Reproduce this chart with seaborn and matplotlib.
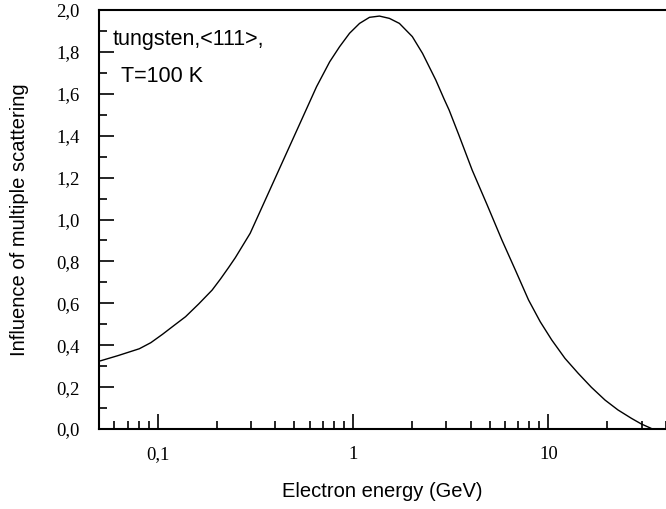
import numpy as np
import pandas as pd
import matplotlib
matplotlib.use("Agg")
import matplotlib.pyplot as plt
import matplotlib.ticker as mticker
import seaborn as sns

# Data
energy = [0.0507, 0.0624, 0.0804, 0.0921, 0.1057, 0.121, 0.1387, 0.162,
          0.1897, 0.2094, 0.2305, 0.2495, 0.2642, 0.2971, 0.3614, 0.4395,
          0.5346, 0.650, 0.759, 0.853, 0.959, 1.079, 1.213, 1.364, 1.534,
          1.726, 2.01, 2.267, 2.65, 2.923, 3.10, 3.48, 4.07, 4.86, 5.78,
          6.77, 7.91, 9.08, 10.4, 12.16, 14.2, 16.6, 19.5, 22.7, 26.6,
          29.9, 33.6]
influence = [0.325, 0.350, 0.383, 0.412, 0.452, 0.494, 0.536, 0.597,
             0.663, 0.716, 0.771, 0.818, 0.856, 0.934, 1.109, 1.284,
             1.459, 1.634, 1.753, 1.825, 1.889, 1.936, 1.965, 1.971, 1.960,
             1.936, 1.873, 1.793, 1.666, 1.575, 1.523, 1.403, 1.236, 1.069, 0.902,
             0.759, 0.616, 0.512, 0.425, 0.337, 0.266, 0.199, 0.138, 0.091, 0.051,
             0.024, 0.003]

x_ticks = [0.1, 1, 10]
x_tick_labels = ["0,1", "1", "10"]
y_ticks = [0.0, 0.2, 0.4, 0.6, 0.8, 1.0, 1.2, 1.4, 1.6, 1.8, 2.0]
y_tick_labels = ["0,0", "0,2", "0,4", "0,6", "0,8", "1,0", "1,2", "1,4", "1,6", "1,8", "2,0"]

df = pd.DataFrame({"energy": energy, "influence": influence})

sns.set_theme(style="ticks")
plt.rcParams["font.family"] = ["Liberation Sans", "DejaVu Sans"]

fig = plt.figure(figsize=(6.66, 5.09), dpi=100)
ax = fig.add_axes([99/666, 1 - 429/509, 1 - 99/666, (429 - 10)/509])

sns.lineplot(data=df, x="energy", y="influence", ax=ax, color="black",
             linewidth=1.0, estimator=None, sort=True)

ax.set_xscale("log")
ax.set_xlim(0.05, 40)
ax.set_ylim(0, 2.0)

ax.xaxis.set_major_locator(mticker.FixedLocator(x_ticks))
ax.xaxis.set_major_formatter(mticker.FixedFormatter(x_tick_labels))
ax.xaxis.set_minor_locator(mticker.LogLocator(base=10, subs=np.arange(2, 10)))
ax.xaxis.set_minor_formatter(mticker.NullFormatter())

ax.yaxis.set_major_locator(mticker.FixedLocator(y_ticks))
ax.yaxis.set_major_formatter(mticker.FixedFormatter(y_tick_labels))
ax.yaxis.set_minor_locator(mticker.MultipleLocator(0.1))

for side in ["left", "bottom", "top"]:
    ax.spines[side].set_visible(True)
    ax.spines[side].set_linewidth(1.5)
    ax.spines[side].set_color("black")
ax.spines["right"].set_visible(False)

ax.tick_params(which="both", direction="in", color="black", top=False, right=False)
ax.tick_params(which="major", length=11, width=1.2)
ax.tick_params(which="minor", length=5.5, width=1.2)
ax.tick_params(axis="y", which="major", pad=14)
ax.tick_params(axis="x", which="major", pad=12)

for lab in ax.get_xticklabels() + ax.get_yticklabels():
    lab.set_fontfamily(["Liberation Serif", "DejaVu Serif"])
    lab.set_fontsize(13.5)
    lab.set_color("black")

ax.set_xlabel("Electron energy (GeV)", fontsize=14.5, color="black")
ax.set_ylabel("Influence of multiple scattering", fontsize=14.5, color="black")
ax.xaxis.set_label_coords(0.5, -0.127)
ax.yaxis.set_label_coords(-0.123, 0.5)

fig.text(113/666, 1 - 40/509, "tungsten,<111>,", fontsize=15.5, color="black",
         ha="left", va="center")
fig.text(121/666, 1 - 77/509, "T=100 K", fontsize=15.5, color="black",
         ha="left", va="center")

fig.savefig("out.png", dpi=100, facecolor="white")
